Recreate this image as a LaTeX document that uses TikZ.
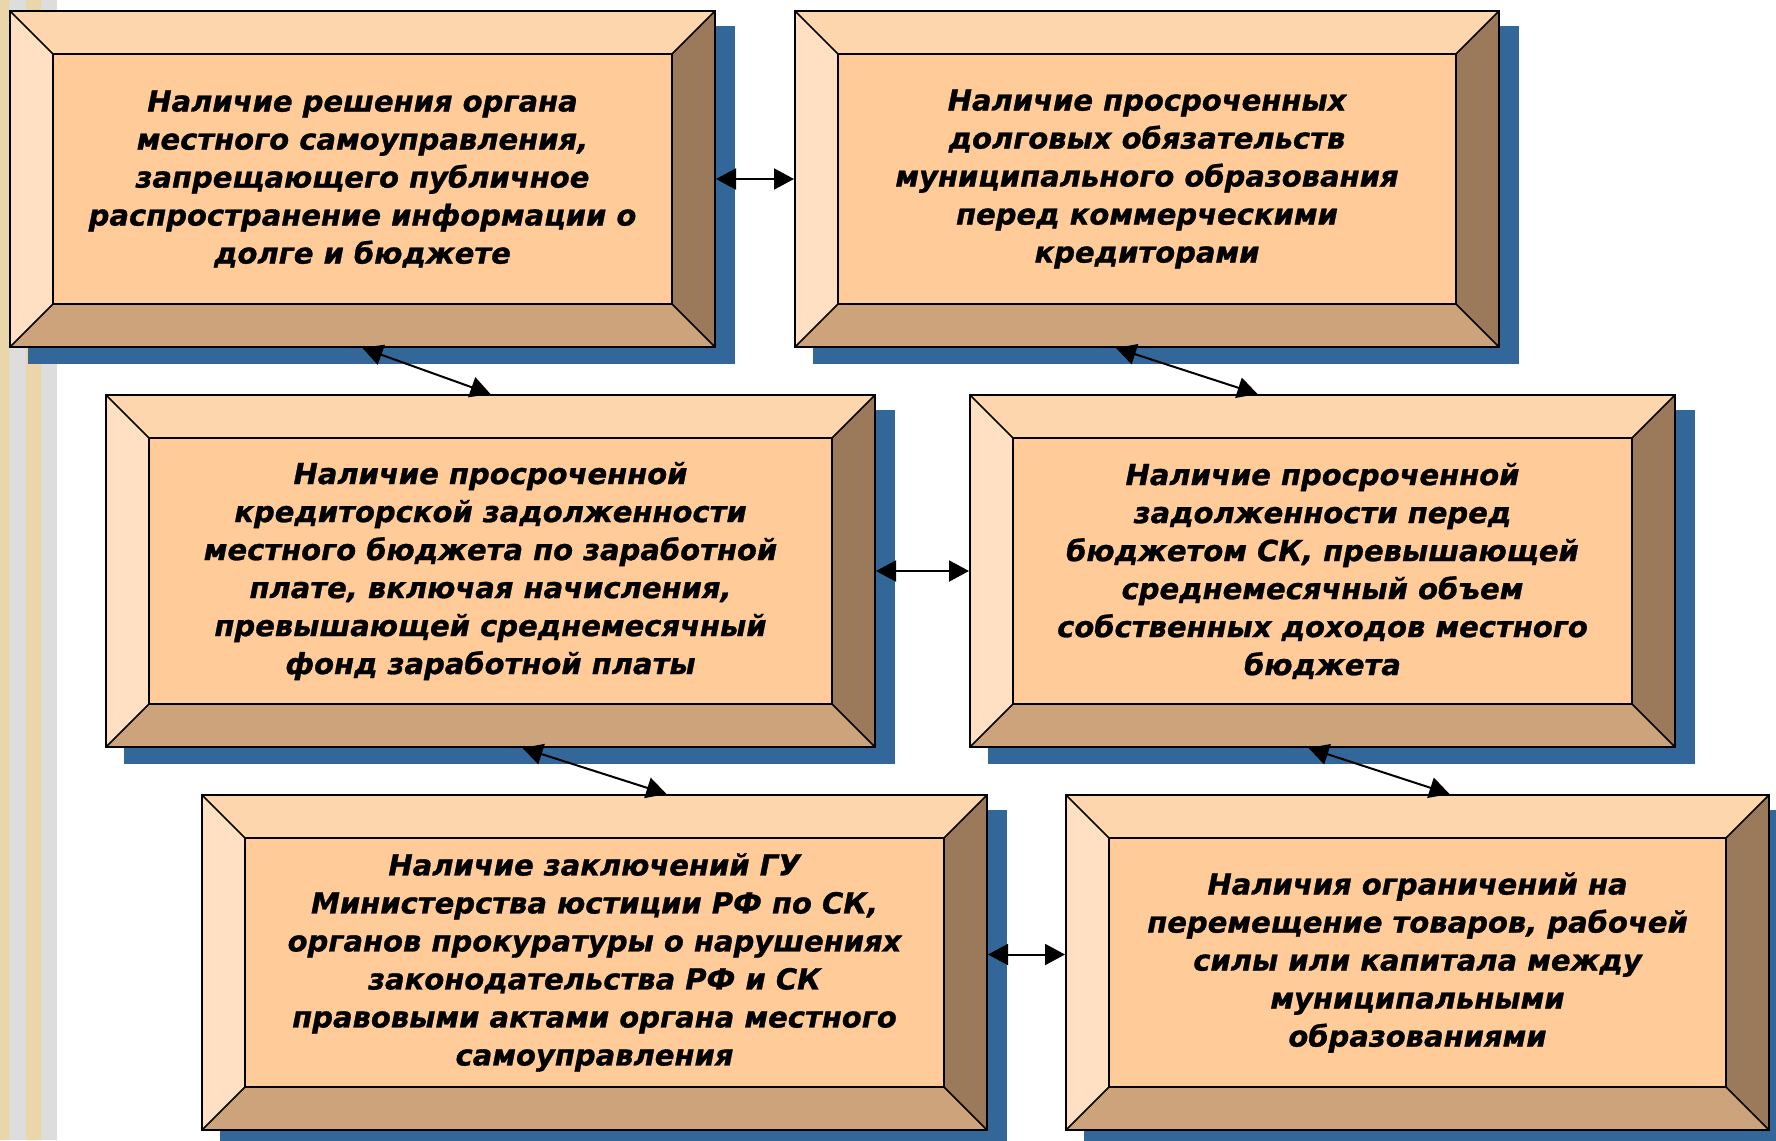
\documentclass[tikz,border=0pt]{standalone}
\usepackage{fontspec}
\usetikzlibrary{arrows.meta,backgrounds}
\newfontfamily\platefont{DejaVu Sans}[BoldItalicFeatures={FakeBold=1}]

\definecolor{platecore}{HTML}{FFCC99}
\definecolor{platetop}{HTML}{FED6AE}
\definecolor{plateleft}{HTML}{FFE0C2}
\definecolor{platebottom}{HTML}{CCA37A}
\definecolor{plateright}{HTML}{9B7A5B}
\definecolor{shadowblue}{HTML}{336699}
\definecolor{stripebeige}{HTML}{EBD6AA}
\definecolor{stripegrey}{HTML}{DDDDDD}

\tikzset{
  plate/.style={draw, line width=2pt, fill=platecore, inner sep=0pt, align=center,
    font=\platefont\bfseries\itshape\fontsize{29}{38}\selectfont,
    path picture={
      \coordinate (pnw) at (path picture bounding box.north west);
      \coordinate (pne) at (path picture bounding box.north east);
      \coordinate (psw) at (path picture bounding box.south west);
      \coordinate (pse) at (path picture bounding box.south east);
      \fill[platetop] (pnw) -- (pne) -- ([shift={(-43pt,-43pt)}]pne) -- ([shift={(43pt,-43pt)}]pnw) -- cycle;
      \fill[plateleft] (pnw) -- ([shift={(43pt,-43pt)}]pnw) -- ([shift={(43pt,43pt)}]psw) -- (psw) -- cycle;
      \fill[platebottom] (psw) -- ([shift={(43pt,43pt)}]psw) -- ([shift={(-43pt,43pt)}]pse) -- (pse) -- cycle;
      \fill[plateright] (pne) -- (pse) -- ([shift={(-43pt,43pt)}]pse) -- ([shift={(-43pt,-43pt)}]pne) -- cycle;
      \draw[line width=1.6pt] ([shift={(43pt,-43pt)}]pnw) rectangle ([shift={(-43pt,43pt)}]pse);
      \draw[line width=1.6pt] (pnw) -- ++(43pt,-43pt) (pne) -- ++(-43pt,-43pt)
        (psw) -- ++(43pt,43pt) (pse) -- ++(-43pt,43pt);
    }},
  link/.style={<->, line width=2pt}
}

\begin{document}
\begin{tikzpicture}[x=1pt, y=-1pt, >={Triangle[length=20pt,width=21pt]}]
    \useasboundingbox (0,0) rectangle (1776,1140);

    % Six plates, two per row
    \node[plate, minimum width=705pt, minimum height=336pt] (b1) at (362.5,179)
      {Наличие решения органа\\местного самоуправления,\\запрещающего публичное\\распространение информации о\\долге и бюджете};
    \node[plate, minimum width=704pt, minimum height=336pt] (b2) at (1147,179)
      {Наличие просроченных\\долговых обязательств\\муниципального образования\\перед коммерческими\\кредиторами};
    \node[plate, minimum width=769pt, minimum height=352pt] (b3) at (490.5,571)
      {Наличие просроченной\\кредиторской задолженности\\местного бюджета по заработной\\плате, включая начисления,\\превышающей среднемесячный\\фонд заработной платы};
    \node[plate, minimum width=705pt, minimum height=352pt] (b4) at (1322.5,571)
      {Наличие просроченной\\задолженности перед\\бюджетом СК, превышающей\\среднемесячный объем\\собственных доходов местного\\бюджета};
    \node[plate, minimum width=785pt, minimum height=335pt] (b5) at (594.5,962.5)
      {Наличие заключений ГУ\\Министерства юстиции РФ по СК,\\органов прокуратуры о нарушениях\\законодательства РФ и СК\\правовыми актами органа местного\\самоуправления};
    \node[plate, minimum width=703pt, minimum height=335pt] (b6) at (1417.5,962.5)
      {Наличия ограничений на\\перемещение товаров, рабочей\\силы или капитала между\\муниципальными\\образованиями};

    % Stripes and shadows go behind the plates
    \begin{scope}[on background layer]
      \fill[stripebeige] (0,0) rectangle (41,1140);
      \fill[stripegrey] (9,0) rectangle (26,1140);
      \fill[stripegrey] (41,0) rectangle (57,1140);
      \foreach \b in {b1,b2,b3,b4,b5,b6}
        \fill[shadowblue] ([shift={(19pt,-16pt)}]\b.south west) rectangle ([shift={(19pt,-16pt)}]\b.north east);
    \end{scope}

    % Double arrows between plates
    \draw[link] (b1.east) -- (b2.west);
    \draw[link] (b3.east) -- (b4.west);
    \draw[link] ([yshift=8pt]b5.east) -- ([yshift=8pt]b6.west);
    \draw[link] (b1.south) -- (b3.north);
    \draw[link] ([xshift=-31pt]b2.south) -- ([xshift=-65pt]b4.north);
    \draw[link] ([xshift=32pt]b3.south) -- ([xshift=72pt]b5.north);
    \draw[link] ([xshift=-14pt]b4.south) -- ([xshift=32pt]b6.north);
\end{tikzpicture}
\end{document}
